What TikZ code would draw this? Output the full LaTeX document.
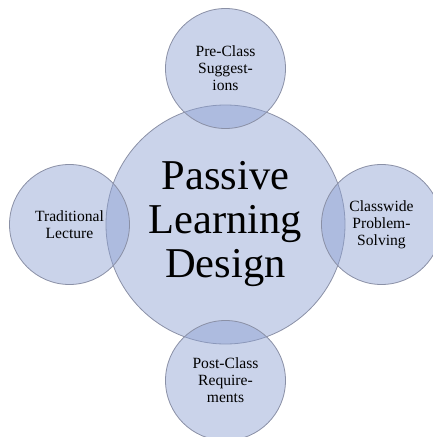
\documentclass[tikz,border=0pt]{standalone}
\usepackage{fontspec}
\setmainfont{Liberation Serif}
\usepackage{xcolor}
\usepackage{tikz}
\usetikzlibrary{positioning}
\definecolor{bubble}{HTML}{8EA1D2}
\definecolor{rim}{HTML}{8A90A6}
\definecolor{ink}{HTML}{000000}
\tikzset{
  disc/.style={circle, draw=rim, line width=0.8pt, fill=bubble, fill opacity=0.47,
               text opacity=1, text=ink, align=center, inner sep=0pt, outer sep=0pt},
  core/.style={disc, minimum size=239pt, font=\fontsize{42.5}{44}\selectfont},
  sat/.style={disc, minimum size=120pt, font=\fontsize{15.6}{17}\selectfont}
}

\begin{document}
\begin{tikzpicture}[node distance=-23.5pt]
  \clip (-225.5pt,-212.5pt) rectangle (207.5pt,224.5pt);
  \node[core] (design) at (0,0) {Passive\\Learning\\Design};
  \node[sat, above=of design] (pre) {Pre-Class\\Suggest-\\ions};
  \node[sat, left=of design] (lecture) {Traditional\\Lecture};
  \node[sat, right=of design] (solving) {Classwide\\Problem-\\Solving};
  \node[sat, below=of design] (post) {Post-Class\\Require-\\ments};
\end{tikzpicture}
\end{document}
